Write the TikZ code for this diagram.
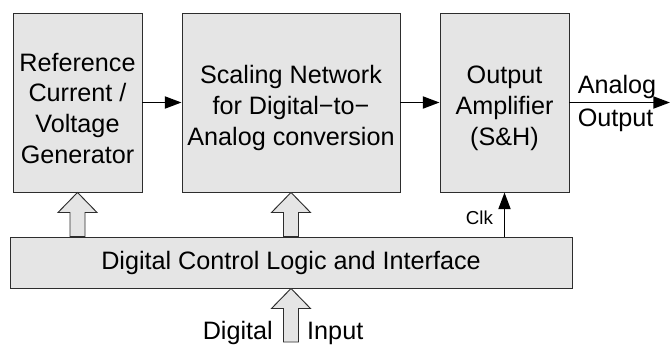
\documentclass[tikz,border=0pt]{standalone}
\usepackage{fontspec}
\setmainfont{Liberation Sans}
\usetikzlibrary{positioning,arrows.meta,calc}
\definecolor{dcFill}{RGB}{229,229,229}
\definecolor{dcLine}{RGB}{45,45,45}
\newcommand{\topgap}{\rule{0pt}{0.88cm}}

\begin{document}
\begin{tikzpicture}[
  font=\fontsize{21.5}{26.2}\selectfont,
  box/.style={draw=dcLine, line width=0.8pt, fill=dcFill, inner sep=2pt, align=center},
  blk/.style={box, minimum width=3.87cm, minimum height=5.37cm},
  arr/.style={-{Triangle[length=0.5cm,width=0.36cm]}, line width=1.6pt},
  fat/.style={draw=dcLine, line width=0.8pt, fill=dcFill},
  lbl/.style={inner sep=2pt},
]
\useasboundingbox (0,0) rectangle (20.1,-10.35);
% blocks
\node[blk] (ref) at (2.325,-3.075) {\topgap Reference\\Current /\\Voltage\\Generator};
\node[blk, minimum width=6.54cm] (scale) at (8.73,-3.075) {\topgap Scaling Network\\for Digital−to−\\Analog conversion};
\node[blk] (amp) at (15.135,-3.075) {\topgap Output\\Amplifier\\(S\&H)};
\node[box, minimum width=16.86cm, minimum height=1.53cm] (ctrl) at (8.73,-7.875) {Digital Control Logic and Interface};
\coordinate (out) at (20.1,-3.075);
\coordinate (refin) at (ref.south |- ctrl.north);
\coordinate (scalein) at (scale.south |- ctrl.north);
\coordinate (din) at (ctrl.south |- 0,-10.26);

% signal path
\draw[arr] (ref) -- (scale);
\draw[arr] (scale) -- (amp);
\draw[arr] (amp) -- node[lbl, pos=0, anchor=south west, xshift=0.15cm] (anl) {Analog}
  node[lbl, pos=0, anchor=north west, xshift=0.15cm, yshift=-0.08cm] (outl) {Output} (out);
\draw[arr] (amp.south |- ctrl.north) -- node[left, xshift=-0.2cm, yshift=-0.1cm, font=\fontsize{16}{18}\selectfont] (clk) {Clk} (amp.south);

% wide control arrows
\foreach \tip/\base in {ref.south/refin, scale.south/scalein, ctrl.south/din}
  \draw[fat] (\tip) -- ++(0.585,-0.6) -- ++(-0.36,0) -- ($(\base)+(0.225,0)$)
    -- ($(\base)+(-0.225,0)$) -- ($(\tip)+(-0.225,-0.6)$) -- ++(-0.36,0) -- cycle;
\node[anchor=base east, inner sep=0pt] (dtxt) at ($(din)+(-0.54,0.09)$) {Digital};
\node[anchor=base west, inner sep=0pt] (itxt) at ($(din)+(0.48,0.09)$) {Input};
\end{tikzpicture}
\end{document}
